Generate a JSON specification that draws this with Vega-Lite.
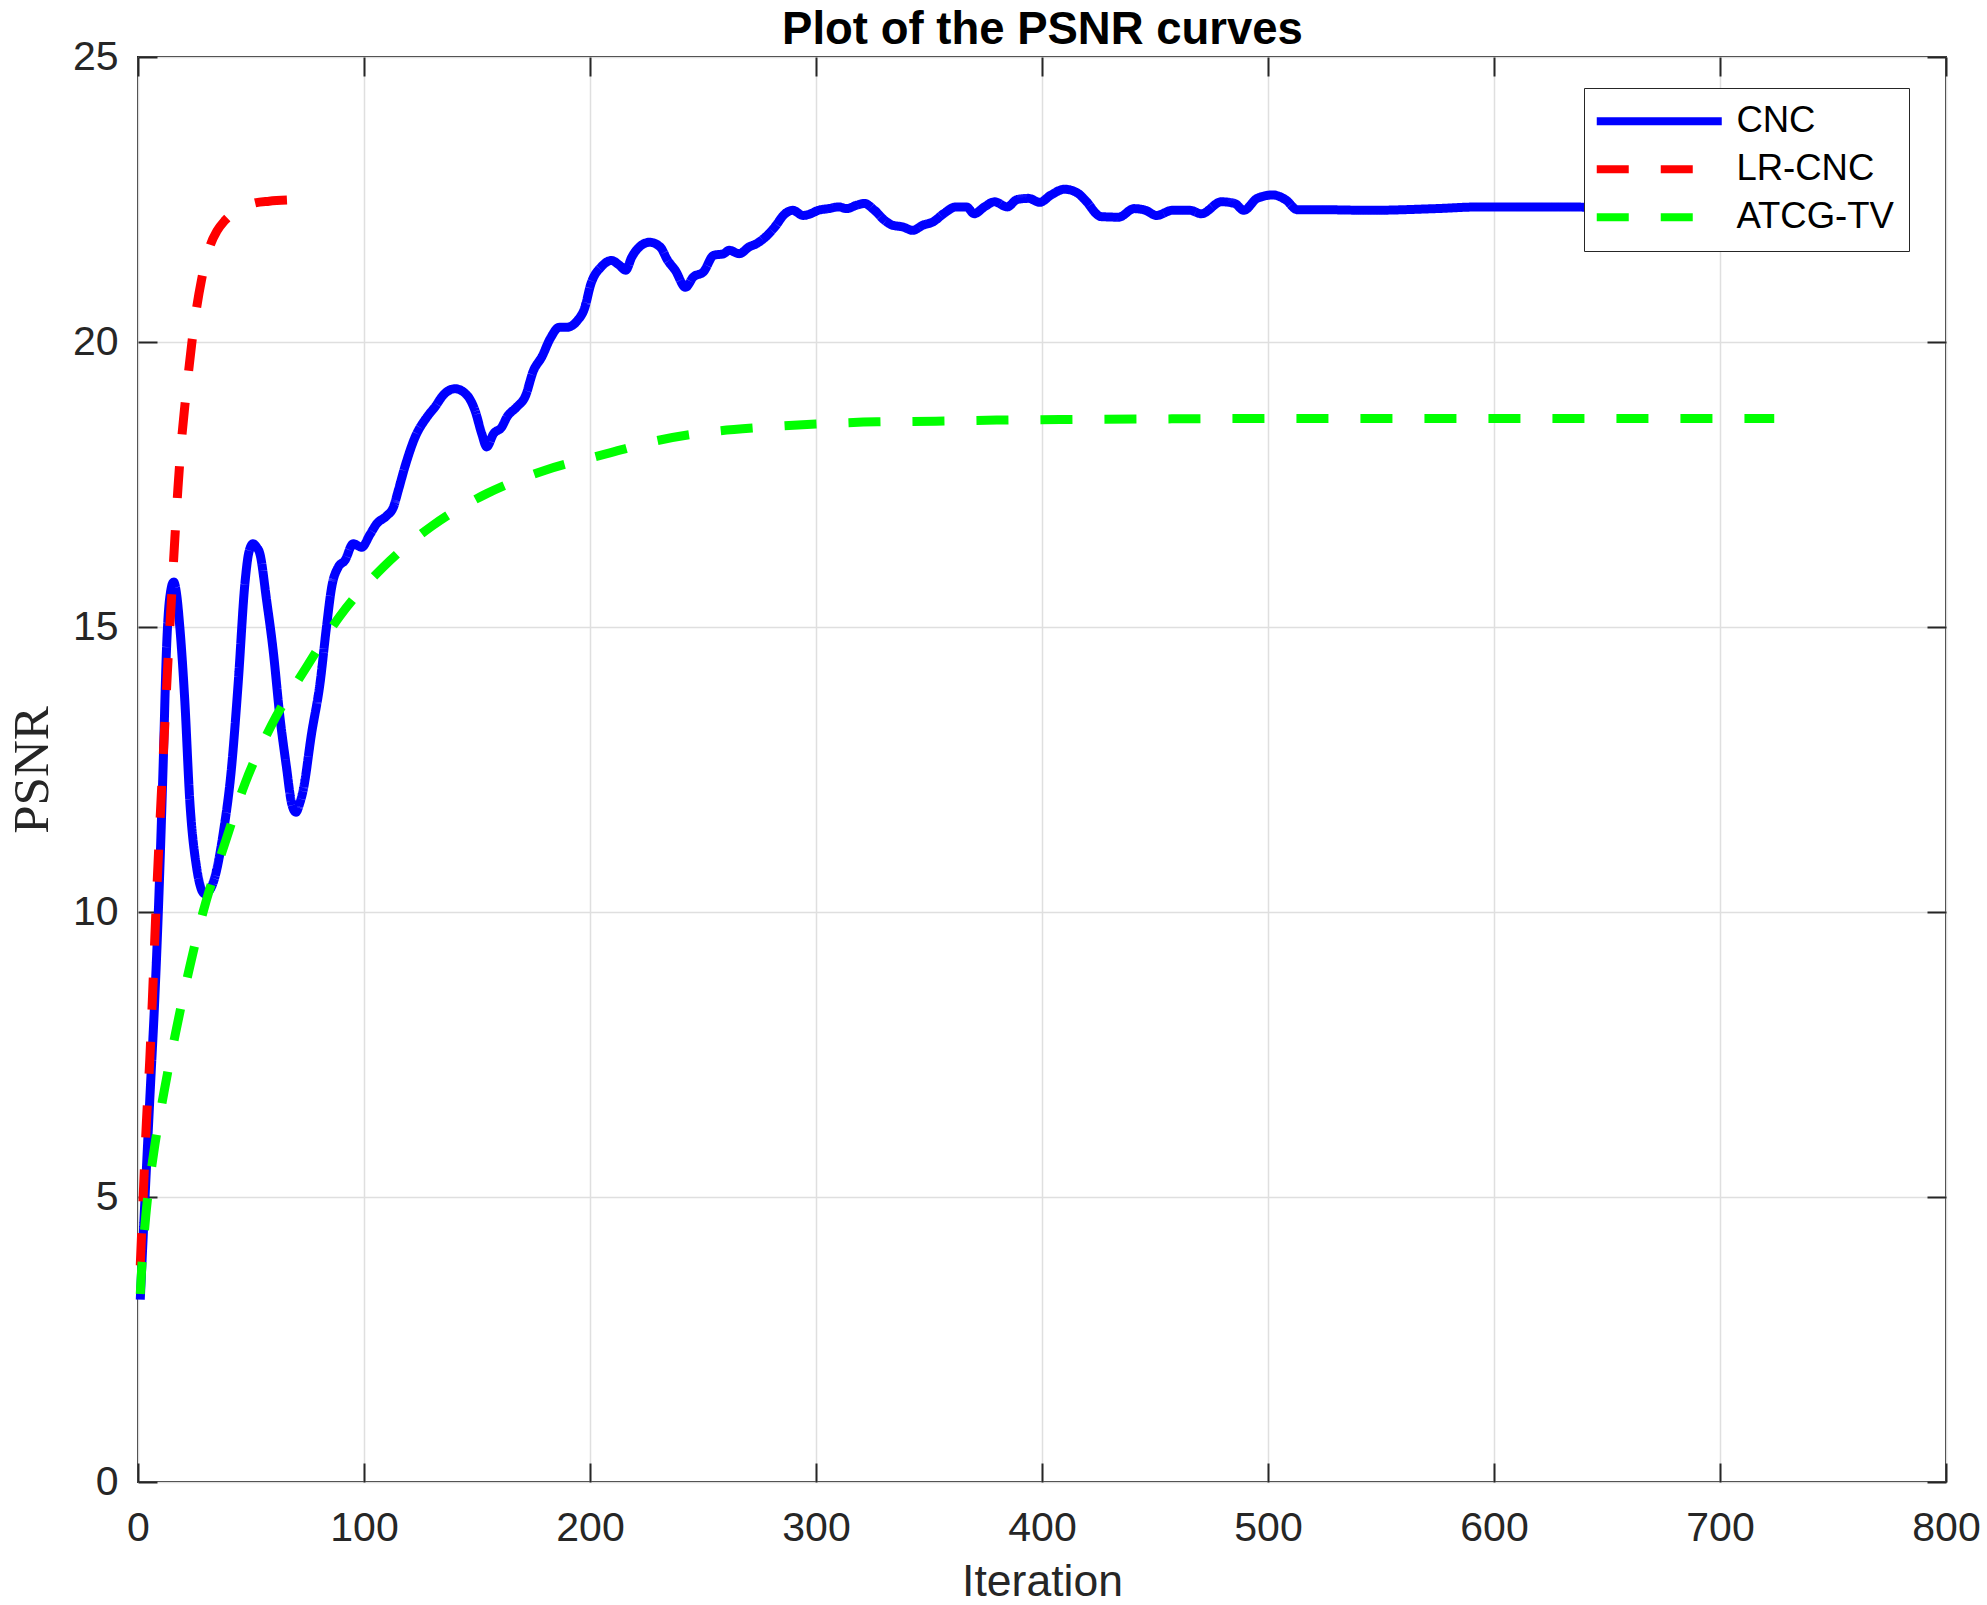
{
  "$schema": "https://vega.github.io/schema/vega-lite/v6.json",
  "width": 1808,
  "height": 1425,
  "autosize": {"type": "none"},
  "padding": {"left": 138, "top": 57, "right": 41, "bottom": 123},
  "background": "white",
  "config": {"view": {"stroke": "#262626", "strokeWidth": 2}},
  "data": {"values": [
    {"series": "CNC", "iteration": 1, "psnr": 3.2},
    {"series": "CNC", "iteration": 3, "psnr": 4.9},
    {"series": "CNC", "iteration": 5.2, "psnr": 6.7},
    {"series": "CNC", "iteration": 7.4, "psnr": 8.45},
    {"series": "CNC", "iteration": 8.9, "psnr": 9.9},
    {"series": "CNC", "iteration": 11.1, "psnr": 12.54},
    {"series": "CNC", "iteration": 12.6, "psnr": 14.6},
    {"series": "CNC", "iteration": 14, "psnr": 15.5},
    {"series": "CNC", "iteration": 15.8, "psnr": 15.79},
    {"series": "CNC", "iteration": 17, "psnr": 15.6},
    {"series": "CNC", "iteration": 18.5, "psnr": 15.0},
    {"series": "CNC", "iteration": 20.7, "psnr": 13.71},
    {"series": "CNC", "iteration": 22.9, "psnr": 11.96},
    {"series": "CNC", "iteration": 25.9, "psnr": 10.79},
    {"series": "CNC", "iteration": 29.5, "psnr": 10.32},
    {"series": "CNC", "iteration": 32, "psnr": 10.4},
    {"series": "CNC", "iteration": 34, "psnr": 10.61},
    {"series": "CNC", "iteration": 37.7, "psnr": 11.38},
    {"series": "CNC", "iteration": 41.4, "psnr": 12.54},
    {"series": "CNC", "iteration": 44.3, "psnr": 14.0},
    {"series": "CNC", "iteration": 47.3, "psnr": 15.76},
    {"series": "CNC", "iteration": 49, "psnr": 16.3},
    {"series": "CNC", "iteration": 50.9, "psnr": 16.46},
    {"series": "CNC", "iteration": 52.5, "psnr": 16.4},
    {"series": "CNC", "iteration": 53.9, "psnr": 16.29},
    {"series": "CNC", "iteration": 56.9, "psnr": 15.47},
    {"series": "CNC", "iteration": 59.8, "psnr": 14.59},
    {"series": "CNC", "iteration": 62.8, "psnr": 13.42},
    {"series": "CNC", "iteration": 65.7, "psnr": 12.54},
    {"series": "CNC", "iteration": 68, "psnr": 11.9},
    {"series": "CNC", "iteration": 69.9, "psnr": 11.75},
    {"series": "CNC", "iteration": 71.5, "psnr": 11.9},
    {"series": "CNC", "iteration": 73.1, "psnr": 12.14},
    {"series": "CNC", "iteration": 76.8, "psnr": 13.13},
    {"series": "CNC", "iteration": 80.5, "psnr": 14.0},
    {"series": "CNC", "iteration": 83.4, "psnr": 15.0},
    {"series": "CNC", "iteration": 85.7, "psnr": 15.7},
    {"series": "CNC", "iteration": 88.6, "psnr": 16.05},
    {"series": "CNC", "iteration": 91.6, "psnr": 16.17},
    {"series": "CNC", "iteration": 95.2, "psnr": 16.46},
    {"series": "CNC", "iteration": 99, "psnr": 16.4},
    {"series": "CNC", "iteration": 102.6, "psnr": 16.62},
    {"series": "CNC", "iteration": 105.6, "psnr": 16.81},
    {"series": "CNC", "iteration": 110, "psnr": 16.95},
    {"series": "CNC", "iteration": 113, "psnr": 17.1},
    {"series": "CNC", "iteration": 115.2, "psnr": 17.4},
    {"series": "CNC", "iteration": 118.1, "psnr": 17.81},
    {"series": "CNC", "iteration": 122.6, "psnr": 18.33},
    {"series": "CNC", "iteration": 127.8, "psnr": 18.68},
    {"series": "CNC", "iteration": 131.4, "psnr": 18.86},
    {"series": "CNC", "iteration": 135.1, "psnr": 19.07},
    {"series": "CNC", "iteration": 140.3, "psnr": 19.18},
    {"series": "CNC", "iteration": 145.5, "psnr": 19.07},
    {"series": "CNC", "iteration": 149.1, "psnr": 18.8},
    {"series": "CNC", "iteration": 152.1, "psnr": 18.39},
    {"series": "CNC", "iteration": 154.3, "psnr": 18.16},
    {"series": "CNC", "iteration": 157.3, "psnr": 18.39},
    {"series": "CNC", "iteration": 161, "psnr": 18.51},
    {"series": "CNC", "iteration": 163.2, "psnr": 18.68},
    {"series": "CNC", "iteration": 167.6, "psnr": 18.86},
    {"series": "CNC", "iteration": 171.3, "psnr": 19.04},
    {"series": "CNC", "iteration": 175, "psnr": 19.5},
    {"series": "CNC", "iteration": 178.7, "psnr": 19.74},
    {"series": "CNC", "iteration": 182.4, "psnr": 20.06},
    {"series": "CNC", "iteration": 186.5, "psnr": 20.26},
    {"series": "CNC", "iteration": 190, "psnr": 20.26},
    {"series": "CNC", "iteration": 194.5, "psnr": 20.38},
    {"series": "CNC", "iteration": 197.5, "psnr": 20.58},
    {"series": "CNC", "iteration": 200.4, "psnr": 21.02},
    {"series": "CNC", "iteration": 205, "psnr": 21.32},
    {"series": "CNC", "iteration": 209.5, "psnr": 21.43},
    {"series": "CNC", "iteration": 212.9, "psnr": 21.35},
    {"series": "CNC", "iteration": 215.8, "psnr": 21.26},
    {"series": "CNC", "iteration": 218.5, "psnr": 21.49},
    {"series": "CNC", "iteration": 221.9, "psnr": 21.67},
    {"series": "CNC", "iteration": 226.4, "psnr": 21.75},
    {"series": "CNC", "iteration": 231, "psnr": 21.67},
    {"series": "CNC", "iteration": 234.4, "psnr": 21.43},
    {"series": "CNC", "iteration": 237.7, "psnr": 21.26},
    {"series": "CNC", "iteration": 242.3, "psnr": 20.96},
    {"series": "CNC", "iteration": 245.7, "psnr": 21.14},
    {"series": "CNC", "iteration": 250.2, "psnr": 21.23},
    {"series": "CNC", "iteration": 254.7, "psnr": 21.52},
    {"series": "CNC", "iteration": 259.2, "psnr": 21.55},
    {"series": "CNC", "iteration": 261.5, "psnr": 21.61},
    {"series": "CNC", "iteration": 266, "psnr": 21.55},
    {"series": "CNC", "iteration": 270.5, "psnr": 21.67},
    {"series": "CNC", "iteration": 273.9, "psnr": 21.73},
    {"series": "CNC", "iteration": 278.4, "psnr": 21.87},
    {"series": "CNC", "iteration": 281.8, "psnr": 22.02},
    {"series": "CNC", "iteration": 286.3, "psnr": 22.25},
    {"series": "CNC", "iteration": 289.7, "psnr": 22.31},
    {"series": "CNC", "iteration": 294.3, "psnr": 22.22},
    {"series": "CNC", "iteration": 297.6, "psnr": 22.25},
    {"series": "CNC", "iteration": 301, "psnr": 22.31},
    {"series": "CNC", "iteration": 305.6, "psnr": 22.34},
    {"series": "CNC", "iteration": 310.1, "psnr": 22.37},
    {"series": "CNC", "iteration": 313.5, "psnr": 22.34},
    {"series": "CNC", "iteration": 318, "psnr": 22.4},
    {"series": "CNC", "iteration": 321.4, "psnr": 22.43},
    {"series": "CNC", "iteration": 325.9, "psnr": 22.31},
    {"series": "CNC", "iteration": 330.5, "psnr": 22.13},
    {"series": "CNC", "iteration": 333.8, "psnr": 22.05},
    {"series": "CNC", "iteration": 338.3, "psnr": 22.02},
    {"series": "CNC", "iteration": 342.8, "psnr": 21.96},
    {"series": "CNC", "iteration": 347.3, "psnr": 22.05},
    {"series": "CNC", "iteration": 351.9, "psnr": 22.11},
    {"series": "CNC", "iteration": 356.4, "psnr": 22.25},
    {"series": "CNC", "iteration": 362, "psnr": 22.37},
    {"series": "CNC", "iteration": 366.6, "psnr": 22.37},
    {"series": "CNC", "iteration": 370, "psnr": 22.25},
    {"series": "CNC", "iteration": 374.5, "psnr": 22.37},
    {"series": "CNC", "iteration": 379, "psnr": 22.46},
    {"series": "CNC", "iteration": 384.6, "psnr": 22.37},
    {"series": "CNC", "iteration": 389, "psnr": 22.5},
    {"series": "CNC", "iteration": 394, "psnr": 22.52},
    {"series": "CNC", "iteration": 399, "psnr": 22.45},
    {"series": "CNC", "iteration": 404, "psnr": 22.58},
    {"series": "CNC", "iteration": 410, "psnr": 22.68},
    {"series": "CNC", "iteration": 415, "psnr": 22.63},
    {"series": "CNC", "iteration": 420, "psnr": 22.45},
    {"series": "CNC", "iteration": 424, "psnr": 22.25},
    {"series": "CNC", "iteration": 426, "psnr": 22.2},
    {"series": "CNC", "iteration": 433.9, "psnr": 22.19},
    {"series": "CNC", "iteration": 440.8, "psnr": 22.34},
    {"series": "CNC", "iteration": 445.8, "psnr": 22.31},
    {"series": "CNC", "iteration": 450.7, "psnr": 22.22},
    {"series": "CNC", "iteration": 457.6, "psnr": 22.31},
    {"series": "CNC", "iteration": 465.5, "psnr": 22.31},
    {"series": "CNC", "iteration": 470.5, "psnr": 22.25},
    {"series": "CNC", "iteration": 479.4, "psnr": 22.46},
    {"series": "CNC", "iteration": 485.3, "psnr": 22.43},
    {"series": "CNC", "iteration": 489.3, "psnr": 22.31},
    {"series": "CNC", "iteration": 495.2, "psnr": 22.52},
    {"series": "CNC", "iteration": 502.1, "psnr": 22.58},
    {"series": "CNC", "iteration": 508, "psnr": 22.49},
    {"series": "CNC", "iteration": 513, "psnr": 22.32},
    {"series": "CNC", "iteration": 524.9, "psnr": 22.32},
    {"series": "CNC", "iteration": 544.7, "psnr": 22.31},
    {"series": "CNC", "iteration": 574.3, "psnr": 22.34},
    {"series": "CNC", "iteration": 594.1, "psnr": 22.37},
    {"series": "CNC", "iteration": 623.7, "psnr": 22.37},
    {"series": "CNC", "iteration": 660, "psnr": 22.36},
    {"series": "CNC", "iteration": 720, "psnr": 22.36},
    {"series": "LR-CNC", "iteration": 1, "psnr": 3.8},
    {"series": "LR-CNC", "iteration": 2.5, "psnr": 5.2},
    {"series": "LR-CNC", "iteration": 3.7, "psnr": 6.3},
    {"series": "LR-CNC", "iteration": 5.2, "psnr": 7.4},
    {"series": "LR-CNC", "iteration": 6.4, "psnr": 8.5},
    {"series": "LR-CNC", "iteration": 7.8, "psnr": 9.9},
    {"series": "LR-CNC", "iteration": 9.5, "psnr": 11.4},
    {"series": "LR-CNC", "iteration": 11.5, "psnr": 13.0},
    {"series": "LR-CNC", "iteration": 13.3, "psnr": 14.44},
    {"series": "LR-CNC", "iteration": 14.8, "psnr": 15.49},
    {"series": "LR-CNC", "iteration": 16.3, "psnr": 16.55},
    {"series": "LR-CNC", "iteration": 17.7, "psnr": 17.45},
    {"series": "LR-CNC", "iteration": 19.2, "psnr": 18.25},
    {"series": "LR-CNC", "iteration": 20.7, "psnr": 18.87},
    {"series": "LR-CNC", "iteration": 22.4, "psnr": 19.49},
    {"series": "LR-CNC", "iteration": 23.8, "psnr": 19.98},
    {"series": "LR-CNC", "iteration": 25.9, "psnr": 20.59},
    {"series": "LR-CNC", "iteration": 28.1, "psnr": 21.09},
    {"series": "LR-CNC", "iteration": 32, "psnr": 21.7},
    {"series": "LR-CNC", "iteration": 35, "psnr": 21.95},
    {"series": "LR-CNC", "iteration": 38.4, "psnr": 22.13},
    {"series": "LR-CNC", "iteration": 45, "psnr": 22.33},
    {"series": "LR-CNC", "iteration": 51.7, "psnr": 22.44},
    {"series": "LR-CNC", "iteration": 58, "psnr": 22.47},
    {"series": "LR-CNC", "iteration": 66, "psnr": 22.49},
    {"series": "ATCG-TV", "iteration": 1, "psnr": 3.3},
    {"series": "ATCG-TV", "iteration": 1.5, "psnr": 3.66},
    {"series": "ATCG-TV", "iteration": 3.4, "psnr": 4.65},
    {"series": "ATCG-TV", "iteration": 6.9, "psnr": 5.76},
    {"series": "ATCG-TV", "iteration": 11.5, "psnr": 6.84},
    {"series": "ATCG-TV", "iteration": 17, "psnr": 7.95},
    {"series": "ATCG-TV", "iteration": 22.9, "psnr": 9.04},
    {"series": "ATCG-TV", "iteration": 28.8, "psnr": 10.0},
    {"series": "ATCG-TV", "iteration": 38.4, "psnr": 11.2},
    {"series": "ATCG-TV", "iteration": 47.3, "psnr": 12.25},
    {"series": "ATCG-TV", "iteration": 59.1, "psnr": 13.28},
    {"series": "ATCG-TV", "iteration": 74.6, "psnr": 14.3},
    {"series": "ATCG-TV", "iteration": 89.5, "psnr": 15.2},
    {"series": "ATCG-TV", "iteration": 108.5, "psnr": 16.05},
    {"series": "ATCG-TV", "iteration": 130, "psnr": 16.77},
    {"series": "ATCG-TV", "iteration": 154.3, "psnr": 17.34},
    {"series": "ATCG-TV", "iteration": 180.2, "psnr": 17.75},
    {"series": "ATCG-TV", "iteration": 207.5, "psnr": 18.04},
    {"series": "ATCG-TV", "iteration": 229.6, "psnr": 18.27},
    {"series": "ATCG-TV", "iteration": 252.5, "psnr": 18.42},
    {"series": "ATCG-TV", "iteration": 275, "psnr": 18.5},
    {"series": "ATCG-TV", "iteration": 300, "psnr": 18.56},
    {"series": "ATCG-TV", "iteration": 327, "psnr": 18.6},
    {"series": "ATCG-TV", "iteration": 353, "psnr": 18.61},
    {"series": "ATCG-TV", "iteration": 380, "psnr": 18.63},
    {"series": "ATCG-TV", "iteration": 408, "psnr": 18.64},
    {"series": "ATCG-TV", "iteration": 450, "psnr": 18.65},
    {"series": "ATCG-TV", "iteration": 519, "psnr": 18.66},
    {"series": "ATCG-TV", "iteration": 600, "psnr": 18.66},
    {"series": "ATCG-TV", "iteration": 724, "psnr": 18.66}
  ]},
  "layer": [
    {
      "mark": {"type": "line", "strokeWidth": 9, "interpolate": "monotone", "strokeJoin": "round"},
      "encoding": {
        "x": {"field": "iteration", "type": "quantitative", "scale": {"domain": [0, 800], "nice": false, "zero": false},
          "axis": {"orient": "bottom", "values": [0, 100, 200, 300, 400, 500, 600, 700, 800], "grid": true, "gridColor": "#dfdfdf", "gridWidth": 1.5, "domain": false, "ticks": true, "tickSize": -19, "tickWidth": 2, "tickColor": "#262626", "labelFont": "Liberation Sans", "labelFontSize": 41, "labelColor": "#262626", "labelBaseline": "alphabetic", "labelPadding": 77, "labelFlush": false, "labelOverlap": false, "title": "Iteration", "titleFont": "Liberation Sans", "titleFontSize": 44.5, "titleFontWeight": "normal", "titleColor": "#262626", "titleBaseline": "alphabetic", "titleAlign": "center", "titleX": 904, "titleY": 113}},
        "y": {"field": "psnr", "type": "quantitative", "scale": {"domain": [0, 25], "nice": false, "zero": false},
          "axis": {"orient": "left", "values": [0, 5, 10, 15, 20, 25], "grid": true, "gridColor": "#dfdfdf", "gridWidth": 1.5, "domain": false, "ticks": true, "tickSize": -19, "tickWidth": 2, "tickColor": "#262626", "labelFont": "Liberation Sans", "labelFontSize": 41, "labelColor": "#262626", "labelAlign": "right", "labelBaseline": "middle", "labelPadding": 39, "labelFlush": false, "labelOverlap": false, "title": "PSNR", "titleFont": "Liberation Serif", "titleFontSize": 51, "titleFontWeight": "normal", "titleColor": "#262626", "titleBaseline": "alphabetic", "titleAlign": "center", "titleAngle": 270, "titleX": -91, "titleY": 712.5}},
        "color": {"field": "series", "type": "nominal",
          "scale": {"domain": ["CNC", "LR-CNC", "ATCG-TV"], "range": ["#0000ff", "#ff0000", "#00ff00"]},
          "legend": {"title": null, "orient": "none", "legendX": 1446, "legendY": 31, "fillColor": "white", "strokeColor": "#262626", "padding": 15, "rowPadding": 11, "symbolType": "M0,0H10", "symbolSize": 625, "symbolStrokeWidth": 8, "symbolOffset": -20.5, "labelOffset": 121.4, "labelFont": "Liberation Sans", "labelFontSize": 36.5, "labelColor": "black", "labelLimit": 400}},
        "strokeDash": {"field": "series", "type": "nominal",
          "scale": {"domain": ["CNC", "LR-CNC", "ATCG-TV"], "range": [[1, 0], [32, 32], [32, 32]]},
          "legend": {"title": null, "orient": "none", "legendX": 1446, "legendY": 31, "fillColor": "white", "strokeColor": "#262626", "padding": 15, "rowPadding": 11, "symbolType": "M0,0H10", "symbolSize": 625, "symbolStrokeWidth": 8, "symbolOffset": -20.5, "labelOffset": 121.4, "labelFont": "Liberation Sans", "labelFontSize": 36.5, "labelColor": "black", "labelLimit": 400}}
      }
    },
    {
      "mark": {"type": "point", "opacity": 0},
      "encoding": {
        "x": {"field": "iteration", "type": "quantitative",
          "axis": {"orient": "top", "values": [0, 100, 200, 300, 400, 500, 600, 700, 800], "grid": false, "domain": false, "labels": false, "ticks": true, "tickSize": -19, "tickWidth": 2, "tickColor": "#262626",
            "title": "Plot of the PSNR curves", "titleFont": "Liberation Sans", "titleFontSize": 45.5, "titleFontWeight": "bold", "titleColor": "black", "titleBaseline": "alphabetic", "titleAlign": "center", "titleX": 904, "titleY": -14}},
        "y": {"field": "psnr", "type": "quantitative",
          "axis": {"orient": "right", "values": [0, 5, 10, 15, 20, 25], "grid": false, "domain": false, "labels": false, "ticks": true, "tickSize": -19, "tickWidth": 2, "tickColor": "#262626", "title": null}}
      }
    }
  ],
  "resolve": {"axis": {"x": "independent", "y": "independent"}}
}
